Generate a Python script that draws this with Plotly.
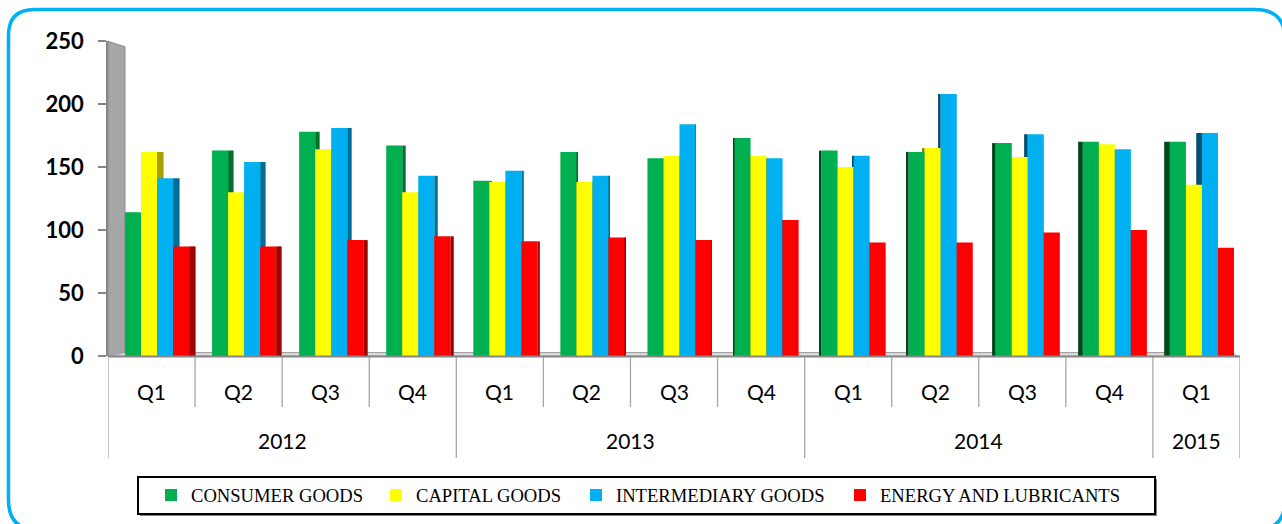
import plotly.graph_objects as go

quarters = ["Q1", "Q2", "Q3", "Q4", "Q1", "Q2", "Q3", "Q4", "Q1", "Q2", "Q3", "Q4", "Q1"]
years = ["2012", "2013", "2014", "2015"]
year_spans = [4, 4, 4, 1]
series_names = ["CONSUMER GOODS", "CAPITAL GOODS", "INTERMEDIARY GOODS", "ENERGY AND LUBRICANTS"]
consumer = [114, 163, 178, 167, 139, 162, 157, 173, 163, 162, 169, 170, 170]
capital = [162, 130, 164, 130, 138, 138, 159, 159, 150, 165, 158, 168, 136]
intermediary = [141, 154, 181, 143, 147, 143, 184, 157, 159, 208, 176, 164, 177]
energy = [87, 87, 92, 95, 91, 94, 92, 108, 90, 90, 98, 100, 86]
y_ticks = [0, 50, 100, 150, 200, 250]

colors = ["#00B050", "#FFFF00", "#00B0F0", "#FF0000"]
side_colors_r = ["#00702F", "#A8A000", "#006E96", "#A00000"]
side_colors_l = ["#00461E", "#8A8400", "#00506E", "#900000"]
W, H = 1282, 524
L, R, T, B = 108, 42, 41, 168
PW, PH = W - L - R, H - T - B


def px(x):
    return (x - L) / PW


def py(y):
    return (H - B - y) / PH


xs = list(range(len(quarters)))
bar_w = 0.184
offsets = [-0.305, -0.121, 0.063, 0.247]
center = 6.4
legend_ids = ["legend", "legend2", "legend3", "legend4"]
legend_text_x = [191, 416, 616, 880]

fig = go.Figure()
all_vals = [consumer, capital, intermediary, energy]
# 3D side faces (drawn first, behind the front faces)
for vals, off, cr, cl in zip(all_vals, offsets, side_colors_r, side_colors_l):
    widths, offs, cols = [], [], []
    for i in xs:
        w = 0.075 * abs(i - center) / center
        widths.append(w)
        if i < center:
            offs.append(off + bar_w)
            cols.append(cr)
        else:
            offs.append(off - w)
            cols.append(cl)
    fig.add_trace(go.Bar(x=xs, y=vals, width=widths, offset=offs, showlegend=False, hoverinfo="skip",
                         marker=dict(color=cols, line=dict(width=0))))
for name, vals, col, off, lg in zip(series_names, all_vals, colors, offsets, legend_ids):
    fig.add_trace(go.Bar(x=xs, y=vals, name=name, marker=dict(color=col, line=dict(width=0)),
                         width=bar_w, offset=off, legend=lg))

shapes = []
# back wall
shapes.append(dict(type="path", xref="paper", yref="paper", layer="below",
                   path=f"M{px(108)},{py(41.3)} L{px(125)},{py(46.7)} L{px(125)},{py(352.7)} L{px(108)},{py(356)} Z",
                   fillcolor="#A6A6A6", line=dict(color="#8C8C8C", width=1)))
# floor
shapes.append(dict(type="path", xref="paper", yref="paper", layer="below",
                   path=f"M{px(108)},{py(356)} L{px(125)},{py(352.5)} L{px(1227)},{py(352.5)} L{px(1240)},{py(356.5)} Z",
                   fillcolor="#D9D9D9", line=dict(color="#A0A0A0", width=1)))
# x axis line
shapes.append(dict(type="line", xref="paper", yref="paper", x0=px(108), x1=px(1240), y0=py(356.5), y1=py(356.5),
                   line=dict(color="#868686", width=2)))
# category separators
bounds = [-0.5]
acc = -0.5
for s in year_spans:
    acc += s
    bounds.append(acc)
for i in range(len(quarters) + 1):
    xb = i - 0.5
    long = any(abs(xb - b) < 1e-9 for b in bounds)
    shapes.append(dict(type="line", xref="x", yref="paper", x0=xb, x1=xb, y0=py(357),
                       y1=py(458 if long else 407), line=dict(color="#A6A6A6", width=1.3)))
# legend box with shadow
shapes.append(dict(type="rect", xref="paper", yref="paper", x0=px(140), x1=px(1157), y0=py(479), y1=py(516),
                   fillcolor="#7F7F7F", line=dict(width=0)))
shapes.append(dict(type="rect", xref="paper", yref="paper", x0=px(138), x1=px(1155), y0=py(477), y1=py(514),
                   fillcolor="white", line=dict(color="#000000", width=2)))
# rounded outer border (partly beyond the right and bottom edges, as in the original)
x0, y0, x1, y1 = 8.5, 9.5, 1285, 530
r_tl, r_tr, r_br, r_bl = 26, 30, 30, 30
path = (f"M{px(x0 + r_tl)},{py(y0)} L{px(x1 - r_tr)},{py(y0)} Q{px(x1)},{py(y0)} {px(x1)},{py(y0 + r_tr)} "
        f"L{px(x1)},{py(y1 - r_br)} Q{px(x1)},{py(y1)} {px(x1 - r_br)},{py(y1)} L{px(x0 + r_bl)},{py(y1)} "
        f"Q{px(x0)},{py(y1)} {px(x0)},{py(y1 - r_bl)} L{px(x0)},{py(y0 + r_tl)} Q{px(x0)},{py(y0)} {px(x0 + r_tl)},{py(y0)} Z")
shapes.append(dict(type="path", xref="paper", yref="paper", path=path, line=dict(color="#00B0F0", width=3.5)))

annotations = []
for i, q in enumerate(quarters):
    annotations.append(dict(x=i, y=py(391), xref="x", yref="paper", text=q, showarrow=False,
                            font=dict(family="Lato", size=21, color="#000000"), yanchor="middle"))
start = 0
for yr, s in zip(years, year_spans):
    annotations.append(dict(x=start + (s - 1) / 2, y=py(440), xref="x", yref="paper", text=yr, showarrow=False,
                            font=dict(family="Lato", size=21, color="#000000"), yanchor="middle"))
    start += s

legend_style = dict(orientation="h", xanchor="left", yanchor="middle", borderwidth=0, bgcolor="rgba(0,0,0,0)",
                    font=dict(family="Liberation Serif", size=18.6, color="#000000"), itemwidth=30)
legends = {}
for lg, tx in zip(legend_ids, legend_text_x):
    legends[lg] = dict(legend_style, x=px(tx - 40), y=py(495.5))

fig.update_layout(
    width=W, height=H,
    margin=dict(l=L, r=R, t=T, b=B, pad=0, autoexpand=False),
    paper_bgcolor="white", plot_bgcolor="rgba(0,0,0,0)",
    barmode="overlay",
    showlegend=True,
    xaxis=dict(range=[-0.5, len(quarters) - 0.5], showticklabels=False, showgrid=False, zeroline=False,
               showline=False, ticks="", automargin=False),
    yaxis=dict(range=[0, 250], tickvals=y_ticks, showgrid=False, zeroline=False, showline=True,
               linecolor="#868686", linewidth=1.5, ticks="outside", ticklen=8, tickcolor="#868686",
               tickwidth=1.5, ticklabelstandoff=10, automargin=False,
               tickfont=dict(family="Lato", size=22, color="#000000", weight="bold")),
    shapes=shapes, annotations=annotations,
    **legends,
)

fig.write_html("out.html", config={"displayModeBar": False, "responsive": False},
               post_script="document.body.style.margin='0';document.documentElement.style.overflow='hidden';")
